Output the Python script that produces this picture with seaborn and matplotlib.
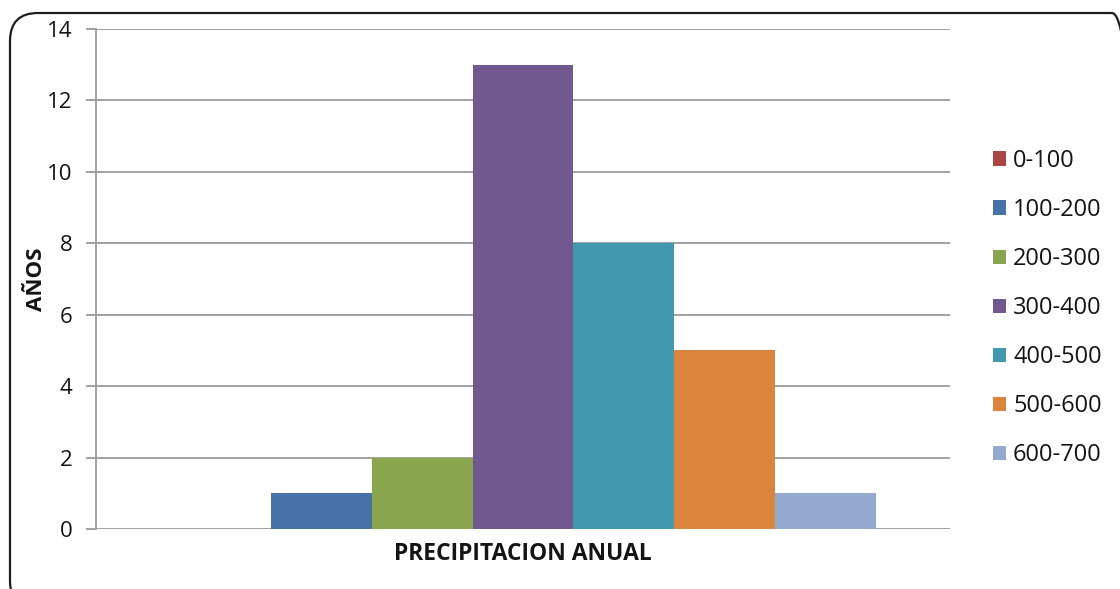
import matplotlib
matplotlib.use("Agg")
import matplotlib.pyplot as plt
from matplotlib.patches import FancyBboxPatch, Patch
import seaborn as sns
import pandas as pd

# Años por rango de precipitación anual (mm)
categoria = ["PRECIPITACION ANUAL"]
rangos = ["0-100", "100-200", "200-300", "300-400", "400-500", "500-600", "600-700"]
anios = [0, 1, 2, 13, 8, 5, 1]
colores = ["#AA4643", "#4572A7", "#89A54E", "#71588F", "#4198AF", "#DB843D", "#93A9CF"]
yticks = [0, 2, 4, 6, 8, 10, 12, 14]

df = pd.DataFrame({
    "categoria": categoria * len(rangos),
    "rango": rangos,
    "anios": anios,
})

sns.set_theme(style="white")
plt.rcParams["font.family"] = ["Open Sans", "DejaVu Sans"]

W, H = 1120, 589
fig = plt.figure(figsize=(W / 100, H / 100), dpi=100)
ax = fig.add_axes([96 / W, 1 - 529 / H, (950 - 96) / W, (529 - 29) / H])

sns.barplot(
    data=df, x="categoria", y="anios", hue="rango",
    hue_order=rangos, palette=colores, saturation=1,
    width=0.826, dodge=True, ax=ax, legend=False, linewidth=0,
)

ax.set_xlim(-0.5, 0.5)
ax.set_ylim(0, 14)
ax.set_yticks(yticks)
ax.set_axisbelow(True)
ax.yaxis.grid(True, color="#9a9a9a", linewidth=1.3)
ax.xaxis.grid(False)

for s in ["top", "right", "bottom"]:
    ax.spines[s].set_visible(False)
ax.spines["left"].set_color("#9a9a9a")
ax.spines["left"].set_linewidth(1.3)

ax.tick_params(axis="y", length=7, width=1.3, color="#9a9a9a", pad=10,
               labelsize=16, labelcolor="#141414", left=True)
ax.tick_params(axis="x", length=0, pad=9, labelsize=16.5, labelcolor="#141414")
for lbl in ax.get_xticklabels():
    lbl.set_fontweight("bold")

ax.set_xlabel("")
ax.set_ylabel("AÑOS", fontsize=16, fontweight="bold", color="#141414", labelpad=0)

handles = [Patch(facecolor=c, edgecolor="none") for c in colores]
fig.legend(
    handles, rangos, loc="center left",
    bbox_to_anchor=(993 / W, 1 - 308 / H),
    frameon=False, fontsize=17, handlelength=0.55, handleheight=0.55,
    handletextpad=0.3, labelspacing=1.06, borderpad=0, borderaxespad=0,
    labelcolor="#141414",
)

# Marco redondeado del gráfico
marco = FancyBboxPatch(
    (10, -20), 1130, H - 13 + 20,
    boxstyle="round,pad=0,rounding_size=28",
    transform=None, facecolor="none", edgecolor="#1e1e1e", linewidth=1.6,
)
fig.patches.append(marco)

fig.savefig("out.png", dpi=100)
